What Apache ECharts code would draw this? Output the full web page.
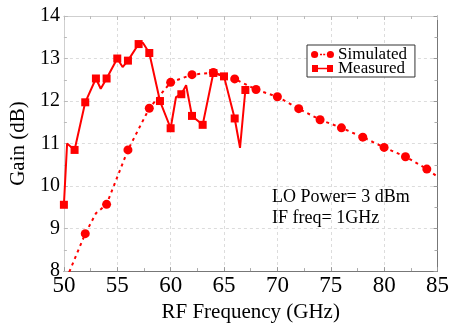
<!DOCTYPE html>
<html>
<head>
<meta charset="utf-8">
<script src="https://cdn.jsdelivr.net/npm/echarts@6/dist/echarts.min.js"></script>
<style>
  html, body { margin: 0; padding: 0; background: #fff; }
  #chart { width: 452px; height: 328px; }
</style>
</head>
<body>
<div id="chart"></div>
<script>
// Simulated gain (dB) versus RF frequency (GHz)
var simFreq = [50, 52, 53, 54, 56, 58, 60, 62, 64, 66, 68, 70, 72, 74, 76, 78, 80, 82, 84, 85];
var simGain = [7.68, 8.88, 9.36, 9.57, 10.85, 11.83, 12.44, 12.62, 12.67, 12.52, 12.27, 12.10, 11.82, 11.56, 11.37, 11.15, 10.91, 10.69, 10.40, 10.22];

// Measured gain (dB) versus RF frequency (GHz)
var measFreq = [50, 50.3, 51, 52, 53, 53.45, 54, 55, 55.5, 56, 57, 57.4, 58, 59, 60, 60.5, 61, 61.45, 62, 63, 64, 65, 66, 66.5, 67];
var measGain = [9.56, 11.0, 10.85, 11.97, 12.53, 12.29, 12.53, 13.0, 12.80, 12.95, 13.34, 13.37, 13.13, 12.0, 11.36, 12.09, 12.16, 12.37, 11.65, 11.44, 12.66, 12.58, 11.59, 10.90, 12.26];

// Axis ranges and tick labels
var xTicks = [50, 55, 60, 65, 70, 75, 80, 85];
var yTicks = [8, 9, 10, 11, 12, 13, 14];

var seriesNames = ['Simulated', 'Measured'];
var noteLines = ['LO Power= 3 dBm', 'IF freq= 1GHz'];

var serif = 'Liberation Serif, Times New Roman, serif';
var red = '#ff0000';

// markers only on the sampled grid (even GHz for simulation, whole GHz for measurement)
var simData = simFreq.map(function (f, i) {
  var marked = f % 2 === 0 && f >= 52 && f <= 84;
  return marked ? [f, simGain[i]] : { value: [f, simGain[i]], symbol: 'none' };
});
var measData = measFreq.map(function (f, i) {
  var marked = Math.round(f) === f;
  return marked ? [f, measGain[i]] : { value: [f, measGain[i]], symbol: 'none' };
});

var gridLine = { show: true, lineStyle: { color: '#dcdcdc', width: 1, type: [3, 3] } };

var chart = echarts.init(document.getElementById('chart'), null, { renderer: 'canvas' });
chart.setOption({
  animation: false,
  backgroundColor: '#ffffff',
  grid: { left: 59, right: 11, top: 16, bottom: 46, containLabel: false },
  title: {
    text: noteLines.join('\n'),
    left: 267,
    top: 182,
    textStyle: { fontFamily: serif, fontSize: 18, fontWeight: 'normal', color: '#000', lineHeight: 21 }
  },
  legend: {
    orient: 'vertical',
    left: 307,
    top: 45,
    padding: [1, 8, 0, 4],
    itemGap: -3,
    itemWidth: 23,
    itemHeight: 8,
    backgroundColor: '#fff',
    borderColor: '#333',
    borderWidth: 1,
    borderRadius: 0,
    textStyle: { fontFamily: serif, fontSize: 17, color: '#000', padding: [0, 0, 0, -1] },
    data: [
      { name: seriesNames[0], icon: 'path://M0,4a3.6,3.6 0 1,0 7.2,0a3.6,3.6 0 1,0 -7.2,0Z M9,3.2h2v1.6h-2Z M12.2,3.2h2v1.6h-2Z M15.8,4a3.6,3.6 0 1,0 7.2,0a3.6,3.6 0 1,0 -7.2,0Z' },
      { name: seriesNames[1], icon: 'path://M1,0.5h6v7h-6Z M7,3.2h9v1.6h-9Z M16,0.5h6v7h-6Z M0,0h0.01v0.01h-0.01Z M23,8h-0.01v-0.01h0.01Z' }
    ]
  },
  xAxis: [{
    type: 'value',
    min: xTicks[0],
    max: xTicks[xTicks.length - 1],
    interval: xTicks[1] - xTicks[0],
    name: 'RF Frequency (GHz)',
    nameLocation: 'middle',
    nameGap: 23,
    nameTextStyle: { fontFamily: serif, fontSize: 21, color: '#000' },
    axisLine: { show: true, lineStyle: { color: '#777', width: 1 } },
    axisTick: { show: true, inside: true, length: 4, lineStyle: { color: '#999' } },
    minorTick: { show: true, splitNumber: 2, length: 3, lineStyle: { color: '#aaa' } },
    axisLabel: { fontFamily: serif, fontSize: 23, color: '#000', margin: 3 },
    splitLine: gridLine
  }, {
    type: 'value',
    position: 'top',
    min: xTicks[0],
    max: xTicks[xTicks.length - 1],
    interval: xTicks[1] - xTicks[0],
    axisLine: { show: true, onZero: false, lineStyle: { color: '#cfcfcf', width: 1 } },
    axisTick: { show: true, inside: true, length: 4, lineStyle: { color: '#bbb' } },
    minorTick: { show: true, splitNumber: 2, length: 3, lineStyle: { color: '#bbb' } },
    axisLabel: { show: false },
    splitLine: { show: false }
  }],
  yAxis: [{
    type: 'value',
    min: yTicks[0],
    max: yTicks[yTicks.length - 1],
    interval: yTicks[1] - yTicks[0],
    name: 'Gain (dB)',
    nameLocation: 'middle',
    nameGap: 24,
    nameTextStyle: { fontFamily: serif, fontSize: 21, color: '#000' },
    axisLine: { show: true, onZero: false, lineStyle: { color: '#cfcfcf', width: 1 } },
    axisTick: { show: true, inside: true, length: 4, lineStyle: { color: '#bbb' } },
    minorTick: { show: true, splitNumber: 2, length: 3, lineStyle: { color: '#bbb' } },
    axisLabel: { fontFamily: serif, fontSize: 20, color: '#000', margin: 4 },
    splitLine: gridLine
  }, {
    type: 'value',
    position: 'right',
    min: yTicks[0],
    max: yTicks[yTicks.length - 1],
    interval: yTicks[1] - yTicks[0],
    axisLine: { show: true, onZero: false, lineStyle: { color: '#777', width: 1 } },
    axisTick: { show: true, inside: true, length: 4, lineStyle: { color: '#999' } },
    minorTick: { show: true, splitNumber: 2, length: 3, lineStyle: { color: '#aaa' } },
    axisLabel: { show: false },
    splitLine: { show: false }
  }],
  series: [{
    name: seriesNames[0],
    type: 'line',
    data: simData,
    clip: true,
    symbol: 'circle',
    symbolSize: 9,
    showAllSymbol: true,
    itemStyle: { color: red },
    lineStyle: { color: red, width: 2, type: [3, 4] },
    z: 3
  }, {
    name: seriesNames[1],
    type: 'line',
    data: measData,
    clip: true,
    symbol: 'rect',
    symbolSize: 8,
    showAllSymbol: true,
    itemStyle: { color: red },
    lineStyle: { color: red, width: 2 },
    z: 4
  }]
});
</script>
</body>
</html>
